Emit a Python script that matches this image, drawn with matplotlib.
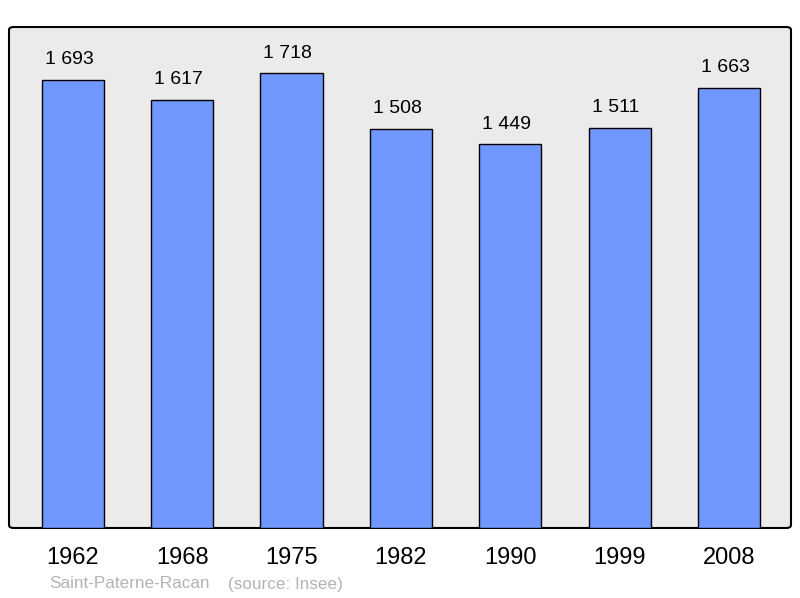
import matplotlib.pyplot as plt
from matplotlib.patches import FancyBboxPatch

plt.rcParams['font.family'] = ['Liberation Sans', 'DejaVu Sans']

years = ["1962", "1968", "1975", "1982", "1990", "1999", "2008"]
population = [1693, 1617, 1718, 1508, 1449, 1511, 1663]
town = "Saint-Paterne-Racan"
source = "(source: Insee)"


def main():
    fig = plt.figure(figsize=(8, 5.98), dpi=100)
    ax = fig.add_axes([9 / 800, 70 / 598, 782 / 800, 501 / 598])
    ax.patch.set_visible(False)
    for s in ax.spines.values():
        s.set_visible(False)

    frame = FancyBboxPatch((0, 0), 1, 1, boxstyle="round,pad=0,rounding_size=0.006",
                           transform=ax.transAxes, facecolor="#ebebeb",
                           edgecolor="black", linewidth=1.5, zorder=0, clip_on=False)
    ax.add_patch(frame)

    x = list(range(len(years)))
    ax.bar(x, population, width=0.57, color="#7097fe", edgecolor="black",
           linewidth=1.0, zorder=2)

    for xi, v in zip(x, population):
        label = "{:,}".format(v).replace(",", " ")
        ax.annotate(label, (xi, v), xytext=(-4, 20), textcoords="offset pixels",
                    ha="center", va="center", fontsize=14)

    ax.set_xlim(-0.585, 6.567)
    ax.set_ylim(0, 1892)
    ax.set_yticks([])
    ax.set_xticks(x)
    ax.set_xticklabels(years, fontsize=17)
    ax.tick_params(axis="x", length=0, pad=14)

    fig.text(49 / 800, 1 - 584 / 598, town, color="#b3b3b3", fontsize=12.3, va="center")
    fig.text(228 / 800, 1 - 584 / 598, source, color="#b3b3b3", fontsize=12.3, va="center")

    fig.savefig("out.png", dpi=100)


main()
